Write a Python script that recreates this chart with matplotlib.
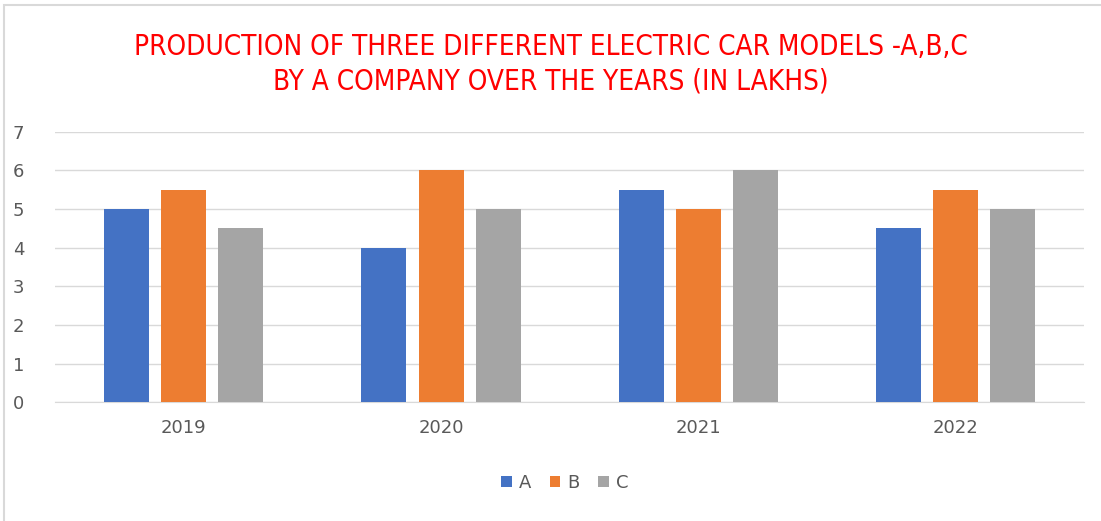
import numpy as np
import matplotlib.pyplot as plt
from matplotlib.patches import Rectangle

years = ['2019', '2020', '2021', '2022']
series = ['A', 'B', 'C']
a_vals = [5.0, 4.0, 5.5, 4.5]
b_vals = [5.5, 6.0, 5.0, 5.5]
c_vals = [4.5, 5.0, 6.0, 5.0]
colors = ['#4472C4', '#ED7D31', '#A5A5A5']

plt.rcParams['font.family'] = ['DejaVu Sans']

fig = plt.figure(figsize=(11.01, 5.21), dpi=100)
ax = fig.add_axes([0.050, 0.228, 0.935, 0.519])

x = np.arange(len(years))
w = 0.175
off = 0.222
for i, (vals, name) in enumerate(zip([a_vals, b_vals, c_vals], series)):
    ax.bar(x + (i - 1) * off, vals, width=w, color=colors[i], label=name, zorder=3)

ax.set_xlim(-0.5, 3.5)
ax.set_ylim(0, 7)
ax.set_yticks(range(0, 8))
ax.set_xticks(x)
ax.set_xticklabels(years)
ax.yaxis.grid(True, color='#D9D9D9', linewidth=1, zorder=0)
for s in ['top', 'right', 'left']:
    ax.spines[s].set_visible(False)
ax.spines['bottom'].set_color('#D9D9D9')
ax.tick_params(axis='both', length=0, labelsize=13, labelcolor='#595959')
ax.tick_params(axis='x', pad=12)
ax.tick_params(axis='y', pad=22)

fig.text(0.50, 0.91, 'PRODUCTION OF THREE DIFFERENT ELECTRIC CAR MODELS -A,B,C',
         ha='center', va='center', color='#FF0000', fontsize=20, fontstretch='condensed')
fig.text(0.50, 0.843, 'BY A COMPANY OVER THE YEARS (IN LAKHS)',
         ha='center', va='center', color='#FF0000', fontsize=20, fontstretch='condensed')

leg = fig.legend(loc='center', bbox_to_anchor=(0.513, 0.073), ncol=3, frameon=False,
                 fontsize=13, handlelength=0.6, handleheight=0.6, handletextpad=0.4,
                 columnspacing=1.0)
for t in leg.get_texts():
    t.set_color('#595959')

fig.add_artist(Rectangle((0.004, -0.01), 1.0, 1.0, transform=fig.transFigure,
                         fill=False, edgecolor='#D9D9D9', linewidth=1.5))

fig.savefig('out.png', dpi=100)
